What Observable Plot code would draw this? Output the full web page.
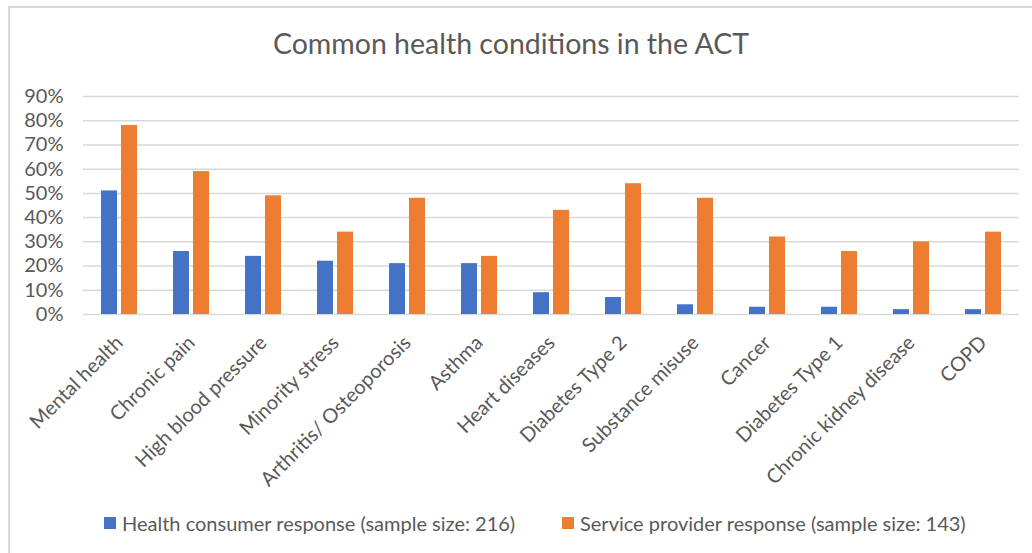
<!DOCTYPE html>
<html>
<head>
<meta charset="utf-8">
<script src="https://cdn.jsdelivr.net/npm/d3@7"></script>
<script src="https://cdn.jsdelivr.net/npm/@observablehq/plot@0.6"></script>
<style>
  html, body { margin: 0; padding: 0; background: #fff; }
  #chart { position: relative; width: 1032px; height: 553px; overflow: hidden; font-family: Lato, "Open Sans", sans-serif; color: #595959; }
  #frame { position: absolute; left: 8px; top: 6px; right: -20px; bottom: -20px; border-left: 2px solid #d9d9d9; border-top: 2px solid #d9d9d9; }
  #title { position: absolute; left: 0; width: 1022px; top: 27px; text-align: center; font-size: 28.5px; line-height: 32px; }
  #plot { position: absolute; left: 0; top: 80px; }
  #legend { position: absolute; top: 511px; left: 0; width: 1032px; height: 24px; font-size: 20px; line-height: 24px; }
  .item { position: absolute; top: 0; display: flex; align-items: center; white-space: nowrap; }
  .swatch { width: 12px; height: 12px; margin-right: 6px; }
</style>
</head>
<body>
<div id="chart">
  <div id="frame"></div>
  <div id="title"></div>
  <div id="plot"></div>
  <div id="legend"></div>
</div>
<script>
// Share of respondents reporting each condition (%)
const categories = [
  "Mental health", "Chronic pain", "High blood pressure", "Minority stress",
  "Arthritis/ Osteoporosis", "Asthma", "Heart diseases", "Diabetes Type 2",
  "Substance misuse", "Cancer", "Diabetes Type 1", "Chronic kidney disease", "COPD"
];
const consumerValues = [51, 26, 24, 22, 21, 21, 9, 7, 4, 3, 3, 2, 2];
const providerValues = [78, 59, 49, 34, 48, 24, 43, 54, 48, 32, 26, 30, 34];
const seriesNames = [
  "Health consumer response (sample size: 216)",
  "Service provider response (sample size: 143)"
];
const seriesColors = ["#4472C4", "#ED7D31"];
const yTicks = [0, 10, 20, 30, 40, 50, 60, 70, 80, 90];
const titleText = "Common health conditions in the ACT";

const rows = categories.flatMap((c, i) => [
  {category: c, series: seriesNames[0], value: consumerValues[i]},
  {category: c, series: seriesNames[1], value: providerValues[i]}
]);

document.getElementById("title").textContent = titleText;

// Grouped bars: one facet per condition, one band per respondent group
const chart = Plot.plot({
  width: 1032,
  height: 420,
  marginLeft: 82,
  marginRight: 13,
  marginTop: 16,
  marginBottom: 186,
  style: {fontFamily: "Lato, 'Open Sans', sans-serif", fontSize: "20px", color: "#595959", overflow: "visible", background: "transparent"},
  fx: {domain: categories, padding: 0, label: null, axis: "bottom", tickRotate: -45, tickSize: 0, tickPadding: 25},
  x: {domain: seriesNames, axis: null, paddingInner: 0.19, paddingOuter: 0.81},
  y: {domain: [0, 90], ticks: yTicks, tickFormat: d => `${d}%`, label: null, tickSize: 0, tickPadding: 20},
  color: {domain: seriesNames, range: seriesColors},
  marks: [
    Plot.gridY(yTicks, {stroke: "#d9d9d9", strokeOpacity: 1, strokeWidth: 1.5}),
    Plot.barY(rows, {fx: "category", x: "series", y: "value", fill: "series"})
  ]
});
document.getElementById("plot").append(chart);

// Legend
const legend = d3.select("#legend");
const legendX = [104, 562];
seriesNames.forEach((name, i) => {
  const item = legend.append("div").attr("class", "item").style("left", legendX[i] + "px");
  item.append("div").attr("class", "swatch").style("background", seriesColors[i]);
  item.append("span").text(name);
});
</script>
</body>
</html>
